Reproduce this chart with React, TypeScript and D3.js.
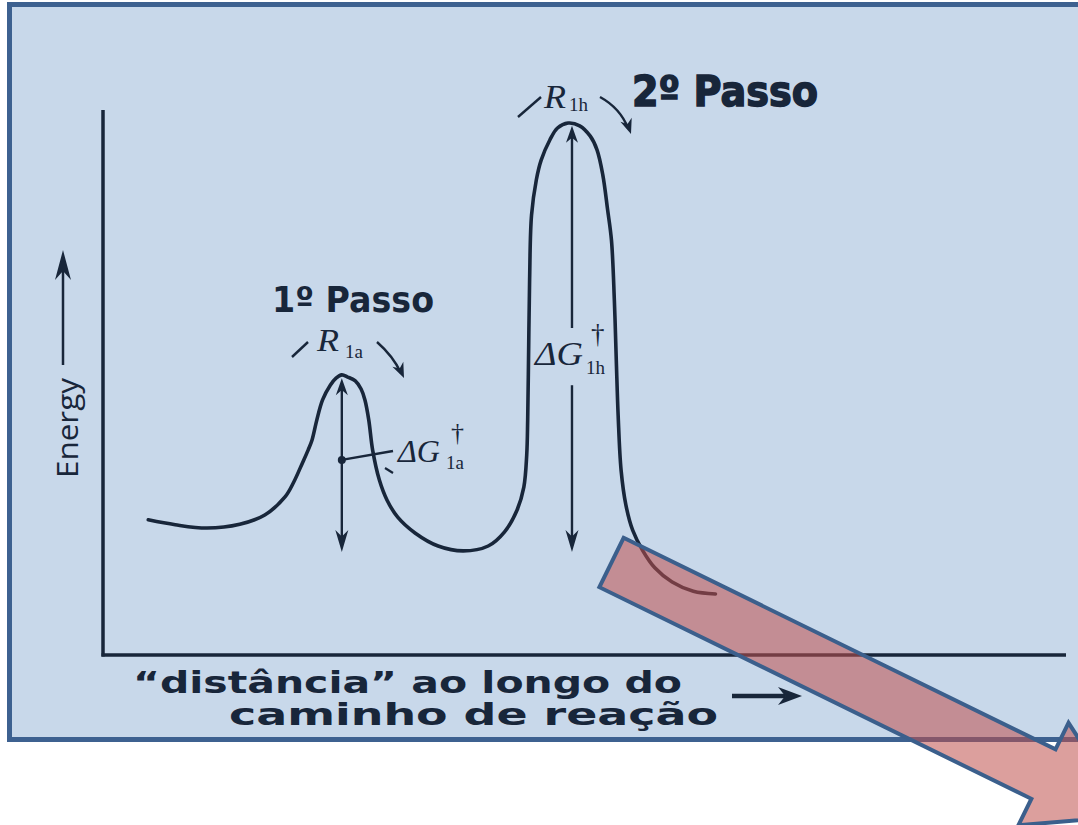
import React from 'react';
import * as d3 from 'd3';

// Reaction coordinate (0-100 along the x axis) and energy (0-100 along the y axis)
const reactionCoord = [4.7, 7.5, 10.8, 14.2, 16.8, 18.9, 19.8, 20.7, 21.3, 21.7, 22.2, 22.8, 23.6, 24.2, 24.8, 25.4, 26.2, 26.8, 27.2, 27.6, 28.0, 28.7, 29.5, 30.6, 32.4, 34.8, 37.4, 40.0, 41.7, 43.0, 43.7, 44.0, 44.1, 44.2, 44.3, 44.5, 45.0, 45.5, 46.4, 47.2, 48.3, 49.5, 50.6, 51.3, 51.9, 52.4, 52.8, 53.1, 53.3, 53.5, 53.8, 54.3, 55.0, 56.0, 57.3, 59.1, 61.3, 63.6];
const energy = [24.8, 23.9, 23.3, 24.0, 25.7, 29.0, 31.7, 35.2, 37.6, 39.4, 43.1, 46.8, 49.5, 50.8, 51.4, 51.0, 50.3, 48.8, 46.8, 43.1, 37.6, 32.1, 28.4, 25.3, 22.4, 20.0, 19.1, 20.0, 22.6, 26.6, 30.8, 36.7, 43.1, 56.0, 68.8, 80.7, 87.2, 90.8, 94.5, 96.7, 97.6, 97.1, 95.2, 92.7, 88.1, 81.7, 76.1, 65.1, 54.1, 43.7, 33.9, 27.5, 22.9, 19.3, 16.0, 13.4, 11.7, 11.2];

// Barrier arrows (ΔG‡)
const barrierX = [24.8, 48.7];
const barrierTop = [50.8, 97.1];
const barrierBase = 18.9;
const gapFrom = [null, 49.5];
const gapTo = [null, 60.0];
const dotEnergy = 35.8;

const W = 1078;
const H = 825;
const INK = '#18263a';

const xScale = d3.scaleLinear().domain([0, 100]).range([103, 1066]);
const yScale = d3.scaleLinear().domain([0, 100]).range([655, 110]);

function headPath(tipX: number, tipY: number, dx: number, dy: number, len: number, half: number) {
  const l = Math.hypot(dx, dy);
  const ux = dx / l, uy = dy / l;
  const nx = -uy, ny = ux;
  const bx = tipX - ux * len, by = tipY - uy * len;
  const mx = tipX - ux * len * 0.7, my = tipY - uy * len * 0.7;
  return `M${tipX},${tipY} L${bx + nx * half},${by + ny * half} L${mx},${my} L${bx - nx * half},${by - ny * half} Z`;
}

export default function App() {
  const pts = reactionCoord.map((r, i) => [xScale(r), yScale(energy[i])] as [number, number]);
  const line = d3.line().curve(d3.curveCatmullRom.alpha(0.5));
  const curvePath = line(pts) || '';

  // Red block arrow geometry
  const T = [611.5, 562.5];
  const ang = (26.1 * Math.PI) / 180;
  const u = [Math.cos(ang), Math.sin(ang)];
  const n = [-Math.sin(ang), Math.cos(ang)];
  const w = 27.5, L = 481, Hh = 57, Lh = 95;
  const P = (a: number, b: number) => `${T[0] + u[0] * a + n[0] * b},${T[1] + u[1] * a + n[1] * b}`;
  const redArrow = `M${P(0, -w)} L${P(L, -w)} L${P(L, -Hh)} L${P(L + Lh, 0)} L${P(L, Hh)} L${P(L, w)} L${P(0, w)} Z`;

  const hand = { fontFamily: 'DejaVu Sans', fontWeight: 700 as const, fill: INK };
  const serifIt = { fontFamily: 'Liberation Serif', fontStyle: 'italic' as const, fill: INK };

  return (
    <svg width={W} height={H} style={{ position: 'fixed', left: 0, top: 0, background: '#ffffff' }}>
      <rect x={9.5} y={4.5} width={1100} height={735} fill="#c8d8ea" stroke="#3d6190" strokeWidth={5} />

      {/* axes */}
      <line x1={xScale(0)} y1={yScale(100)} x2={xScale(0)} y2={yScale(0) + 1.5} stroke={INK} strokeWidth={3.5} />
      <line x1={xScale(0) - 1.5} y1={yScale(0)} x2={xScale(100)} y2={yScale(0)} stroke={INK} strokeWidth={3.5} />

      {/* Energy label */}
      <line x1={63} y1={365} x2={63} y2={262} stroke={INK} strokeWidth={2.5} />
      <path d={headPath(63, 250, 0, -1, 30, 8)} fill={INK} />
      <text transform="translate(78,478) rotate(-90)" fontFamily="Open Sans" fontSize={29} fill={INK} textLength={100} lengthAdjust="spacingAndGlyphs">Energy</text>

      {/* energy profile */}
      <path d={curvePath} fill="none" stroke={INK} strokeWidth={3.6} strokeLinecap="round" />

      {/* barrier arrows */}
      {barrierX.map((bx, i) => {
        const x = xScale(bx);
        const yt = yScale(barrierTop[i]);
        const yb = yScale(barrierBase);
        const segs: [number, number][] = gapFrom[i] == null
          ? [[yt + 8, yb - 12]]
          : [[yt + 8, yScale(gapTo[i] as number)], [yScale(gapFrom[i] as number), yb - 12]];
        return (
          <g key={i}>
            {segs.map((s, j) => (
              <line key={j} x1={x} y1={s[0]} x2={x} y2={s[1]} stroke={INK} strokeWidth={2.4} />
            ))}
            <path d={headPath(x, yt, 0, -1, 17, 6)} fill={INK} />
            <path d={headPath(x, yb, 0, 1, 22, 6.5)} fill={INK} />
          </g>
        );
      })}

      {/* ΔG1a leader */}
      <circle cx={xScale(barrierX[0])} cy={yScale(dotEnergy)} r={4} fill={INK} />
      <line x1={xScale(barrierX[0])} y1={yScale(dotEnergy)} x2={393} y2={451} stroke={INK} strokeWidth={2.4} />
      <line x1={385} y1={468} x2={393} y2={473} stroke={INK} strokeWidth={2.2} />
      <text x={398} y={462} {...serifIt} fontSize={32} textLength={42} lengthAdjust="spacingAndGlyphs">ΔG</text>
      <text x={446} y={469} {...serifIt} fontStyle="normal" fontSize={19}>1a</text>
      <text x={451} y={441} {...serifIt} fontStyle="normal" fontSize={26}>†</text>

      {/* ΔG1h label */}
      <text x={535} y={365} {...serifIt} fontSize={34} textLength={48} lengthAdjust="spacingAndGlyphs">ΔG</text>
      <text x={586} y={374} {...serifIt} fontStyle="normal" fontSize={19}>1h</text>
      <text x={591} y={343} {...serifIt} fontStyle="normal" fontSize={27}>†</text>

      {/* 1º Passo */}
      <text x={272} y={312} {...hand} fontSize={36} textLength={162} lengthAdjust="spacingAndGlyphs">1º Passo</text>
      <line x1={292} y1={357} x2={308} y2={342} stroke={INK} strokeWidth={2.4} />
      <text x={317} y={351} {...serifIt} fontSize={32} textLength={22} lengthAdjust="spacingAndGlyphs">R</text>
      <text x={345} y={358} {...serifIt} fontStyle="normal" fontSize={19}>1a</text>
      <path d="M377,342 Q393,356 401,373" fill="none" stroke={INK} strokeWidth={2.4} />
      <path d={headPath(404, 378, 0.45, 1, 15, 6)} fill={INK} />

      {/* 2º Passo */}
      <text x={632} y={106} {...hand} fontSize={42} textLength={186} lengthAdjust="spacingAndGlyphs" stroke={INK} strokeWidth={1.5}>2º Passo</text>
      <line x1={518} y1={117} x2={541} y2={97} stroke={INK} strokeWidth={2.4} />
      <text x={544} y={108} {...serifIt} fontSize={34} textLength={22} lengthAdjust="spacingAndGlyphs">R</text>
      <text x={569} y={111} {...serifIt} fontStyle="normal" fontSize={19}>1h</text>
      <path d="M600,97 Q620,108 628,128" fill="none" stroke={INK} strokeWidth={2.4} />
      <path d={headPath(631, 134, 0.35, 1, 15, 6)} fill={INK} />

      {/* x-axis label */}
      <text x={133} y={693} {...hand} fontSize={30} textLength={549} lengthAdjust="spacingAndGlyphs">“distância” ao longo do</text>
      <text x={229} y={725} {...hand} fontSize={30} textLength={489} lengthAdjust="spacingAndGlyphs">caminho de reação</text>
      <line x1={732} y1={696} x2={785} y2={696} stroke={INK} strokeWidth={4.5} />
      <path d={headPath(802, 696, 1, 0, 24, 9)} fill={INK} />

      {/* red block arrow */}
      <path d={redArrow} fill="rgb(192,80,77)" fillOpacity={0.55} stroke="#3b5f8c" strokeWidth={4} strokeLinejoin="miter" />
    </svg>
  );
}
